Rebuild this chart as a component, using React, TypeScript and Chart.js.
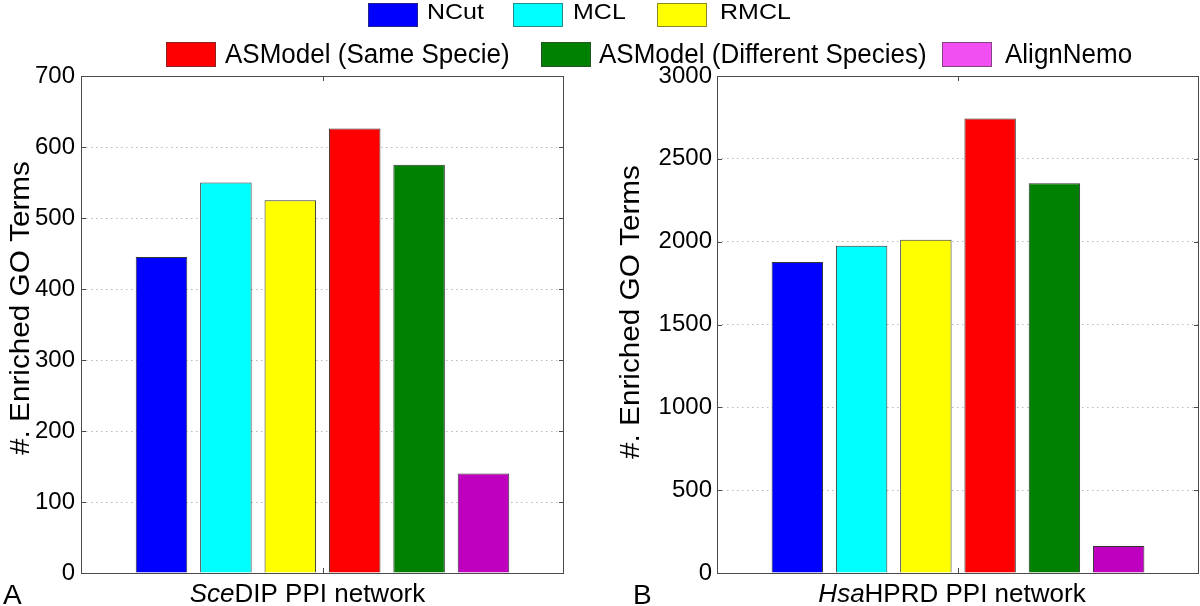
import React, { useEffect, useRef } from 'react';
import { Chart, registerables } from 'chart.js';

Chart.register(...registerables);

// ---- data ----
const methods = [
  'NCut',
  'MCL',
  'RMCL',
  'ASModel (Same Specie)',
  'ASModel (Different Species)',
  'AlignNemo',
];
const sceValues = [445, 550, 525, 626, 575, 140];
const hsaValues = [1878, 1976, 2012, 2743, 2353, 163];
const sceTicks = [0, 100, 200, 300, 400, 500, 600, 700];
const hsaTicks = [0, 500, 1000, 1500, 2000, 2500, 3000];
const barColors = ['#0000ff', '#00ffff', '#ffff00', '#ff0000', '#008000', '#bf00bf'];
const legendColors = ['#0000ff', '#00ffff', '#ffff00', '#ff0000', '#008000', '#f24ff2'];
const yTitle = '#. Enriched GO Terms';

const FONT = '"Liberation Sans", Arial, Helvetica, sans-serif';

// ---- layout (styles only) ----
const legendLayout = [
  { box: 368, text: 427, row: 0 },
  { box: 513, text: 573, row: 0 },
  { box: 657, text: 720, row: 0 },
  { box: 166, text: 225, row: 1 },
  { box: 541, text: 599, row: 1 },
  { box: 942, text: 1005, row: 1 },
];
const legendRows = [
  { boxTop: 3, boxH: 24, fontSize: 25, textTop: -2, scaleY: 0.88 },
  { boxTop: 42, boxH: 25, fontSize: 26, textTop: 41, scaleY: 1.06 },
];

const panels = [
  {
    key: 'A',
    letter: 'A',
    values: sceValues,
    ticks: sceTicks,
    italic: 'Sce',
    rest: 'DIP PPI network',
    canvasLeft: 0,
    yAxisWidth: 81,
    padRight: 36,
    labelShift: -15,
    tickPad: 6,
    letterX: 3,
    yTitleX: 22,
    yTitleY: 308,
  },
  {
    key: 'B',
    letter: 'B',
    values: hsaValues,
    ticks: hsaTicks,
    italic: 'Hsa',
    rest: 'HPRD PPI network',
    canvasLeft: 600,
    yAxisWidth: 117,
    padRight: 1,
    labelShift: -6,
    tickPad: 5,
    letterX: 33,
    yTitleX: 32,
    yTitleY: 312,
  },
];

const decorPlugin = {
  id: 'panelDecor',
  afterDatasetsDraw(chart: any, _args: any, opts: any) {
    const ctx = chart.ctx as CanvasRenderingContext2D;
    const { left, right, top, bottom } = chart.chartArea;
    const ys = chart.scales.y;
    const xs = chart.scales.x;
    ctx.save();
    // box
    ctx.strokeStyle = '#4a4a4a';
    ctx.lineWidth = 1;
    ctx.setLineDash([]);
    ctx.strokeRect(Math.round(left) + 0.5, Math.round(top) + 0.5, Math.round(right - left) - 1, Math.round(bottom - top));
    // inward ticks
    ctx.beginPath();
    for (const t of ys.ticks) {
      const y = Math.round(ys.getPixelForValue(t.value)) + 0.5;
      ctx.moveTo(left, y);
      ctx.lineTo(left + 5, y);
      ctx.moveTo(right, y);
      ctx.lineTo(right - 5, y);
    }
    const cx = Math.round(xs.getPixelForValue(0)) + 0.5;
    ctx.moveTo(cx, bottom);
    ctx.lineTo(cx, bottom - 5);
    ctx.moveTo(cx, top);
    ctx.lineTo(cx, top + 5);
    ctx.stroke();

    // x label with italic prefix
    ctx.fillStyle = '#000';
    ctx.textBaseline = 'alphabetic';
    ctx.textAlign = 'left';
    ctx.font = `italic 26px ${FONT}`;
    const w1 = ctx.measureText(opts.italic).width;
    ctx.font = `26px ${FONT}`;
    const w2 = ctx.measureText(opts.rest).width;
    const startX = (left + right) / 2 + opts.labelShift - (w1 + w2) / 2;
    ctx.font = `italic 26px ${FONT}`;
    ctx.fillText(opts.italic, startX, 602);
    ctx.font = `26px ${FONT}`;
    ctx.fillText(opts.rest, startX + w1, 602);

    // panel letter
    ctx.font = `28px ${FONT}`;
    ctx.fillText(opts.letter, opts.letterX, 604);

    // y title (slightly elongated along its length like the reference)
    ctx.translate(opts.yTitleX, opts.yTitleY);
    ctx.rotate(-Math.PI / 2);
    ctx.scale(1.1, 1);
    ctx.textAlign = 'center';
    ctx.textBaseline = 'middle';
    ctx.font = `27px ${FONT}`;
    ctx.fillText(yTitle, 0, 0);
    ctx.restore();
  },
};

function Panel({ p }: { p: (typeof panels)[number] }) {
  const ref = useRef<HTMLCanvasElement | null>(null);
  useEffect(() => {
    if (!ref.current) return;
    const chart = new Chart(ref.current, {
      type: 'bar',
      data: {
        labels: [p.italic + p.rest],
        datasets: methods.map((m, i) => ({
          label: m,
          data: [p.values[i]],
          backgroundColor: barColors[i],
          borderColor: 'rgba(30,30,30,0.9)',
          borderWidth: 1,
          categoryPercentage: 0.8,
          barPercentage: 0.8,
        })),
      },
      options: {
        responsive: false,
        animation: false,
        devicePixelRatio: 1,
        layout: { padding: { top: 76, right: p.padRight, bottom: 33, left: 0 } },
        plugins: {
          legend: { display: false },
          tooltip: { enabled: false },
          panelDecor: {
            italic: p.italic,
            rest: p.rest,
            labelShift: p.labelShift,
            letter: p.letter,
            letterX: p.letterX,
            yTitleX: p.yTitleX,
            yTitleY: p.yTitleY,
          },
        } as any,
        scales: {
          x: { display: false },
          y: {
            min: p.ticks[0],
            max: p.ticks[p.ticks.length - 1],
            afterBuildTicks: (s: any) => {
              s.ticks = p.ticks.map((v) => ({ value: v }));
            },
            afterFit: (s: any) => {
              s.width = p.yAxisWidth;
            },
            ticks: {
              color: '#000',
              font: { family: FONT, size: 24 },
              padding: p.tickPad,
              callback: (v: any) => String(v),
            },
            grid: {
              color: '#b8b8b8',
              lineWidth: 1,
              drawTicks: false,
            },
            border: { display: false, dash: [1.5, 3.5] },
          },
        },
      },
      plugins: [decorPlugin],
    });
    return () => chart.destroy();
  }, [p]);
  return (
    <canvas
      ref={ref}
      width={600}
      height={606}
      style={{ position: 'absolute', left: p.canvasLeft, top: 0, width: 600, height: 606 }}
    />
  );
}

export default function App() {
  return (
    <div
      style={{
        position: 'fixed',
        left: 0,
        top: 0,
        width: 1200,
        height: 606,
        background: '#fff',
        overflow: 'hidden',
        fontFamily: FONT,
      }}
    >
      {panels.map((p) => (
        <Panel key={p.key} p={p} />
      ))}
      {methods.map((m, i) => {
        const l = legendLayout[i];
        const r = legendRows[l.row];
        return (
          <React.Fragment key={m}>
            <div
              style={{
                position: 'absolute',
                left: l.box,
                top: r.boxTop,
                width: 50,
                height: r.boxH,
                boxSizing: 'border-box',
                background: legendColors[i],
                border: '1px solid rgba(60,60,60,0.6)',
              }}
            />
            <span
              style={{
                position: 'absolute',
                left: l.text,
                top: r.textTop,
                fontSize: r.fontSize,
                lineHeight: '1',
                whiteSpace: 'nowrap',
                color: '#000',
                transform: `scaleY(${r.scaleY})`,
                transformOrigin: `0 ${Math.round(r.fontSize * 0.85)}px`,
              }}
            >
              {m}
            </span>
          </React.Fragment>
        );
      })}
    </div>
  );
}
